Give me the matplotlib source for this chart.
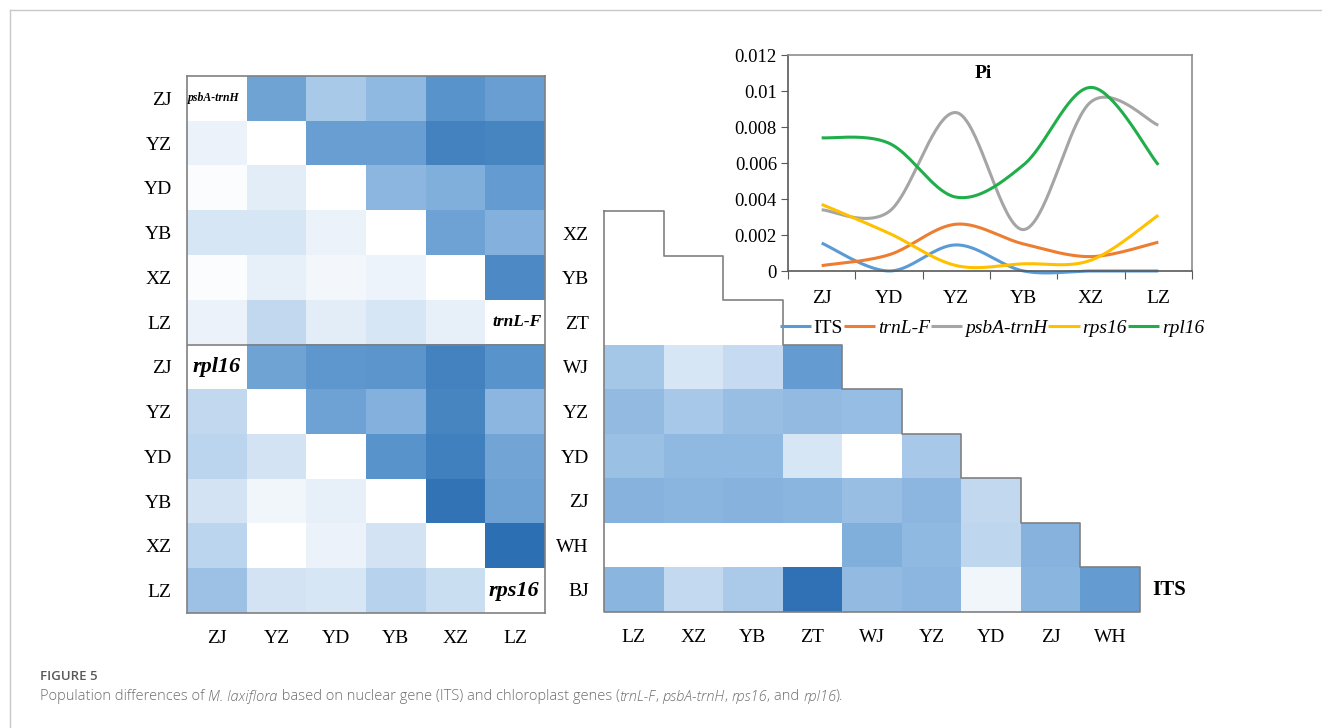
import numpy as np
import matplotlib
matplotlib.use('Agg')
import matplotlib.pyplot as plt
from matplotlib.colors import LinearSegmentedColormap
from matplotlib.lines import Line2D

W, H = 1322, 728

# ---- data ----
pops_left = ['ZJ', 'YZ', 'YD', 'YB', 'XZ', 'LZ']
# upper triangle: psbA-trnH, lower triangle: trnL-F (relative shade 0-1)
block_top = [
    [np.nan, 0.65, 0.40, 0.50, 0.75, 0.68],
    [0.10, np.nan, 0.68, 0.68, 0.87, 0.85],
    [0.02, 0.14, np.nan, 0.52, 0.57, 0.70],
    [0.20, 0.20, 0.10, np.nan, 0.66, 0.56],
    [0.02, 0.12, 0.06, 0.09, np.nan, 0.82],
    [0.10, 0.30, 0.14, 0.20, 0.12, np.nan],
]
# upper triangle: rpl16, lower triangle: rps16
block_bottom = [
    [np.nan, 0.65, 0.73, 0.74, 0.87, 0.75],
    [0.30, np.nan, 0.66, 0.56, 0.85, 0.52],
    [0.32, 0.22, np.nan, 0.75, 0.88, 0.64],
    [0.22, 0.07, 0.12, np.nan, 0.97, 0.66],
    [0.32, 0.00, 0.10, 0.22, np.nan, 1.00],
    [0.45, 0.22, 0.20, 0.34, 0.26, np.nan],
]

its_rows = ['XZ', 'YB', 'ZT', 'WJ', 'YZ', 'YD', 'ZJ', 'WH', 'BJ']
its_cols = ['LZ', 'XZ', 'YB', 'ZT', 'WJ', 'YZ', 'YD', 'ZJ', 'WH']
its_vals = [
    [0.0],
    [0.0, 0.0],
    [0.0, 0.0, 0.0],
    [0.42, 0.20, 0.28, 0.70],
    [0.49, 0.41, 0.47, 0.49, 0.48],
    [0.46, 0.50, 0.50, 0.20, 0.0, 0.41],
    [0.55, 0.53, 0.55, 0.53, 0.47, 0.52, 0.30],
    [0.0, 0.0, 0.0, 0.0, 0.57, 0.50, 0.31, 0.55],
    [0.53, 0.29, 0.39, 0.98, 0.49, 0.52, 0.07, 0.53, 0.70],
]

pi_pops = ['ZJ', 'YD', 'YZ', 'YB', 'XZ', 'LZ']
pi_its = [0.00155, 0.0, 0.00145, 0.0, 0.0, 0.0]
pi_trnl = [0.0003, 0.0009, 0.0026, 0.0015, 0.0008, 0.0016]
pi_psba = [0.0034, 0.0033, 0.0088, 0.0023, 0.0094, 0.0081]
pi_rps16 = [0.0037, 0.0021, 0.0003, 0.0004, 0.0006, 0.0031]
pi_rpl16 = [0.0074, 0.0071, 0.0041, 0.0059, 0.0102, 0.0059]


def box(x0, y0, x1, y1):
    return [x0 / W, 1 - y1 / H, (x1 - x0) / W, (y1 - y0) / H]


def smooth(x, y, n=40):
    # excel-like smoothed line (cardinal bezier)
    pts = np.column_stack([x, y])
    p = np.vstack([pts[0], pts, pts[-1]])
    out = []
    t = np.linspace(0, 1, n)[:, None]
    for i in range(1, len(p) - 2):
        p0, p1, p2, p3 = p[i - 1], p[i], p[i + 1], p[i + 2]
        c1 = p1 + (p2 - p0) / 6
        c2 = p2 - (p3 - p1) / 6
        out.append((1 - t) ** 3 * p1 + 3 * (1 - t) ** 2 * t * c1
                   + 3 * (1 - t) * t ** 2 * c2 + t ** 3 * p2)
    out = np.vstack(out)
    return out[:, 0], out[:, 1]


plt.rcParams['font.family'] = ['Liberation Serif', 'DejaVu Serif']
cmap = LinearSegmentedColormap.from_list(
    'bl', [(0, '#ffffff'), (0.25, '#cde0f3'), (0.5, '#91bae2'),
           (0.75, '#5a94cc'), (1, '#2c6fb3')])
cmap.set_bad('white')
edge = '#808080'

fig = plt.figure(figsize=(W / 100, H / 100), dpi=100)

# ---- left heatmap (chloroplast genes) ----
ax1 = fig.add_axes(box(187, 76, 545, 613))
mat = np.array(block_top + block_bottom, dtype=float)
ax1.imshow(np.ma.masked_invalid(mat), cmap=cmap, vmin=0, vmax=1,
           aspect='auto', extent=(0, 6, 12, 0), interpolation='nearest')
ax1.set_xlim(0, 6)
ax1.set_ylim(12, 0)
ax1.set_xticks(np.arange(6) + 0.5)
ax1.set_xticklabels(pops_left)
ax1.set_yticks(np.arange(12) + 0.5)
ax1.set_yticklabels(pops_left + pops_left)
ax1.tick_params(length=0, labelsize=14, pad=11)
ax1.tick_params(axis='x', pad=12)
for s in ax1.spines.values():
    s.set_color(edge)
    s.set_linewidth(1.2)
ax1.axhline(6, color=edge, lw=1.2)
ax1.text(0.02, 0.5, 'psbA-trnH', fontsize=8.5, style='italic', weight='bold',
         ha='left', va='center')
ax1.text(5.95, 5.5, 'trnL-F', fontsize=12.5, style='italic', weight='bold',
         ha='right', va='center')
ax1.text(0.1, 6.5, 'rpl16', fontsize=16, style='italic', weight='bold',
         ha='left', va='center')
ax1.text(5.9, 11.5, 'rps16', fontsize=16, style='italic', weight='bold',
         ha='right', va='center')

# ---- ITS triangle heatmap ----
ax2 = fig.add_axes(box(604, 211, 1140, 612))
ax2.set_facecolor('none')
its_mat = np.full((9, 9), np.nan)
for i, row in enumerate(its_vals):
    its_mat[i, :len(row)] = row
ax2.imshow(np.ma.masked_invalid(its_mat), cmap=cmap, vmin=0, vmax=1,
           aspect='auto', extent=(0, 9, 9, 0), interpolation='nearest')
ax2.set_xlim(0, 9)
ax2.set_ylim(9, 0)
xs = [0]
ys = [0]
for i in range(9):
    xs += [i + 1, i + 1]
    ys += [i, i + 1]
xs += [0, 0]
ys += [9, 0]
ax2.plot(xs, ys, color=edge, lw=1.2, zorder=3, clip_on=False)
ax2.set_xticks(np.arange(9) + 0.5)
ax2.set_xticklabels(its_cols)
ax2.set_yticks(np.arange(9) + 0.5)
ax2.set_yticklabels(its_rows)
ax2.tick_params(length=0, labelsize=14, pad=11)
ax2.tick_params(axis='x', pad=12)
for s in ax2.spines.values():
    s.set_visible(False)
ax2.text(9.2, 8.5, 'ITS', fontsize=15, weight='bold', ha='left', va='center')

# ---- Pi line chart ----
ax3 = fig.add_axes(box(788, 55, 1192, 271))
xc = np.arange(6) + 0.5
series = [
    ('ITS', pi_its, '#5b9bd5', 'normal'),
    ('trnL-F', pi_trnl, '#ed7d31', 'italic'),
    ('psbA-trnH', pi_psba, '#a5a5a5', 'italic'),
    ('rps16', pi_rps16, '#ffc000', 'italic'),
    ('rpl16', pi_rpl16, '#1fae4a', 'italic'),
]
for name, vals, col, st in series:
    sx, sy = smooth(xc, vals)
    ax3.plot(sx, sy, color=col, lw=2.2, label=name, clip_on=False,
             solid_capstyle='butt')
ax3.set_xlim(0, 6)
ax3.set_ylim(0, 0.012)
ax3.set_yticks(np.arange(0, 0.0121, 0.002))
ax3.set_yticklabels(['0', '0.002', '0.004', '0.006', '0.008', '0.01', '0.012'])
ax3.set_xticks(np.arange(7))
ax3.set_xticklabels([])
ax3.set_xticks(xc, minor=True)
ax3.set_xticklabels(pi_pops, minor=True)
ax3.tick_params(axis='x', which='major', length=6, color='#595959', direction='out')
ax3.tick_params(axis='x', which='minor', length=0, labelsize=14, pad=14)
ax3.tick_params(axis='y', length=5, color='#595959', labelsize=13.5, pad=3)
ax3.spines['left'].set_color('#595959')
ax3.spines['bottom'].set_color('#595959')
ax3.spines['top'].set_color('#8c8c8c')
ax3.spines['right'].set_color('#8c8c8c')
for s in ax3.spines.values():
    s.set_linewidth(1.2)
ax3.text(2.9, 0.0110, 'Pi', fontsize=14, weight='bold', ha='center', va='center')

leg = fig.legend(*ax3.get_legend_handles_labels(), loc='center',
                 bbox_to_anchor=(992 / W, 1 - 328 / H), ncol=5, frameon=False,
                 fontsize=14, handlelength=1.6, handletextpad=0.15,
                 columnspacing=0.05, borderaxespad=0)
for txt, (name, vals, col, st) in zip(leg.get_texts(), series):
    txt.set_style(st)

# ---- frame and caption ----
fig.add_artist(Line2D([10 / W, 1], [1 - 10 / H, 1 - 10 / H], color='#c8c8c8', lw=1))
fig.add_artist(Line2D([10 / W, 10 / W], [0, 1 - 10 / H], color='#c8c8c8', lw=1))

cap_font = ['Open Sans', 'DejaVu Sans']
fig.text(40 / W, 1 - 676 / H, 'FIGURE 5', fontsize=9.5, weight='semibold',
         color='#595959', family=cap_font, va='center')

renderer = fig.canvas.get_renderer()
x = 40 / W
parts = [
    ('Population differences of ', 'normal'),
    ('M. laxiflora', 'italic'),
    (' based on nuclear gene (ITS) and chloroplast genes (', 'normal'),
    ('trnL-F', 'italic'), (', ', 'normal'),
    ('psbA-trnH', 'italic'), (', ', 'normal'),
    ('rps16', 'italic'), (', and ', 'normal'),
    ('rpl16', 'italic'), (').', 'normal'),
]
for s, st in parts:
    t = fig.text(x, 1 - 697 / H, s, fontsize=10.5, style=st, color='#6e6e6e',
                 family=cap_font, va='center', weight='light')
    bb = t.get_window_extent(renderer=renderer)
    x += bb.width / W

fig.savefig('out.png', dpi=100)
